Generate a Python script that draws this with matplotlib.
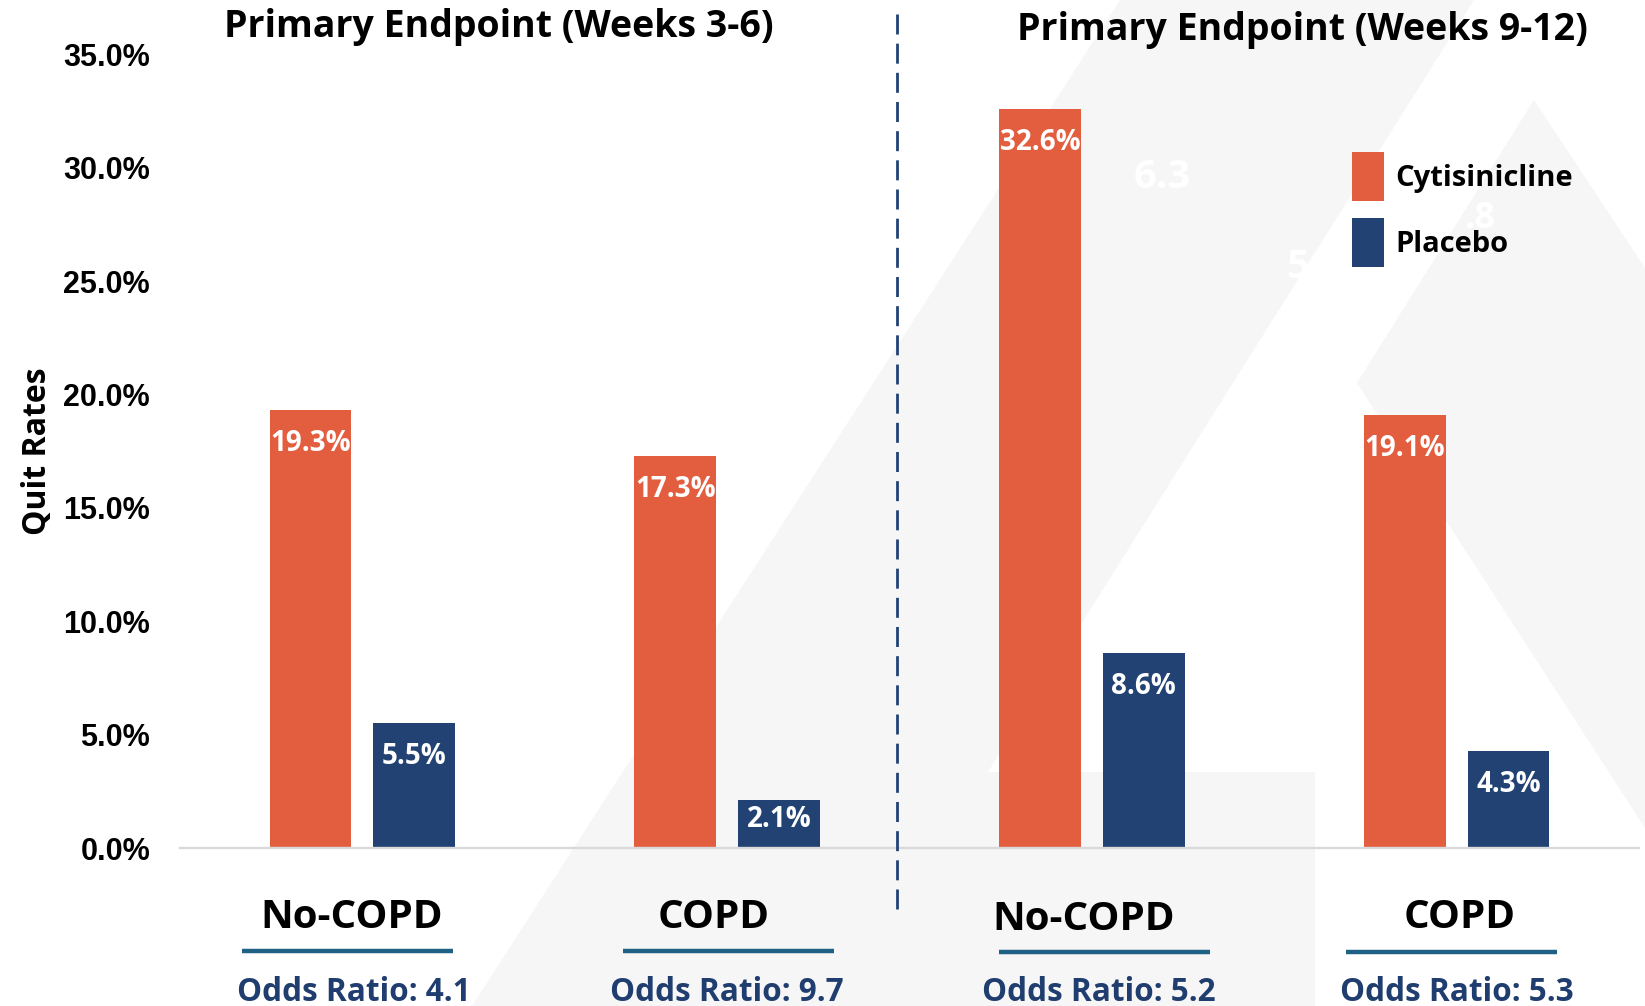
import numpy as np
import matplotlib
matplotlib.use('Agg')
import matplotlib.pyplot as plt
import matplotlib.transforms as mtransforms
from matplotlib.patches import Polygon
from matplotlib.lines import Line2D

plt.rcParams['font.family'] = ['Open Sans', 'DejaVu Sans']
plt.rcParams['font.weight'] = 'bold'

W, H = 1645, 1006

# data
groups = ['No-COPD', 'COPD', 'No-COPD', 'COPD']
cytisinicline = [19.3, 17.3, 32.6, 19.1]
placebo = [5.5, 2.1, 8.6, 4.3]
odds_ratios = [4.1, 9.7, 5.2, 5.3]
panel_titles = ['Primary Endpoint (Weeks 3-6)', 'Primary Endpoint (Weeks 9-12)']
series_names = ['Cytisinicline', 'Placebo']
yticks = [0, 5, 10, 15, 20, 25, 30, 35]
bg_digits = ['6.3', '5', '.8']

c_orange = '#e35e3f'
c_navy = '#224274'
c_uline = '#1f6184'
c_odds = '#1f3d6e'
c_bg = '#f6f6f6'


def px(x, y):
    # figure pixel (from top-left) -> figure fraction
    return (x / W, 1 - y / H)


fig = plt.figure(figsize=(W / 100, H / 100), dpi=100)

# faint logo shapes behind the chart
big = [(1120, 0), (1474, 0), (988, 772), (1315, 772), (1315, 1006), (472, 1006)]
small = [(1534, 100), (1645, 268), (1645, 828), (1357, 383)]
for shp in (big, small):
    fig.add_artist(Polygon([px(*p) for p in shp], closed=True, transform=fig.transFigure,
                           facecolor=c_bg, edgecolor='none', zorder=-5))
for txt, pos, fs in zip(bg_digits, [(1162, 188), (1298, 278), (1480, 228)], [29, 29, 26]):
    fig.text(*px(*pos), txt, color='white', fontsize=fs, ha='center', va='baseline', zorder=-4)

ax = fig.add_axes([180 / W, 1 - 848 / H, (1639 - 180) / W, (848 - 54.5) / H])
ax.patch.set_alpha(0)

x = np.arange(len(groups))
bw = 0.224
off = 0.142
b1 = ax.bar(x - off, cytisinicline, bw, color=c_orange, label=series_names[0], zorder=2)
b2 = ax.bar(x + off, placebo, bw, color=c_navy, label=series_names[1], zorder=2)

for bars, vals in ((b1, cytisinicline), (b2, placebo)):
    for r, v in zip(bars, vals):
        dy = 41 if v >= 3 else 27
        ax.annotate('{:.1f}%'.format(v), (r.get_x() + r.get_width() / 2, v),
                    xytext=(0, -dy * 0.72), textcoords='offset points',
                    ha='center', va='baseline', color='white', fontsize=20, fontweight='bold')

ax.set_xlim(-0.5, 3.5)
ax.set_ylim(0, 35)
ax.set_yticks(yticks)
ax.set_yticklabels(['{:.1f}%'.format(v) for v in yticks], fontfamily='Liberation Sans',
                   fontweight='bold', fontsize=22)
ax.tick_params(axis='y', length=0, pad=21.6)
ax.set_xticks([])
for s in ['top', 'right', 'left']:
    ax.spines[s].set_visible(False)
ax.spines['bottom'].set_color('#d9d9d9')
ax.spines['bottom'].set_linewidth(1.7)

ax.set_ylabel('Quit Rates', fontsize=23, fontweight='bold')
ax.yaxis.set_label_coords((54 - 180) / 1459, 0.5)

# category labels, underlines, odds ratios under each group
trans = mtransforms.blended_transform_factory(ax.transData, fig.transFigure)
unit = 1459 / 4.0
cat_nudge = [-10.4, -13.5, -8, 3.4]
line_nudge = [-14.4, 0.9, 12.6, -5.1]
odds_nudge = [-8.4, -0.6, 6.6, 0.4]
cat_base = [928, 928, 930, 928]
line_y = [950.7, 950.7, 952, 952]
for i, g in enumerate(groups):
    fig.text(x[i] + cat_nudge[i] / unit, 1 - cat_base[i] / H, g, transform=trans,
             ha='center', va='baseline', fontsize=29, fontweight='bold', color='black')
    cx = x[i] + line_nudge[i] / unit
    hw = 105.5 / unit
    fig.add_artist(Line2D([cx - hw, cx + hw], [1 - line_y[i] / H] * 2, transform=trans,
                          color=c_uline, lw=3.2, solid_capstyle='butt'))
    fig.text(x[i] + odds_nudge[i] / unit, 1 - 1001 / H, 'Odds Ratio: {}'.format(odds_ratios[i]),
             transform=trans, ha='center', va='baseline', fontsize=22.7, fontweight='bold', color=c_odds)

# panel titles and divider
fig.text(*px(499, 37), panel_titles[0], ha='center', va='baseline', fontsize=27, fontweight='bold')
fig.text(*px(1302, 40), panel_titles[1], ha='center', va='baseline', fontsize=27, fontweight='bold')
fig.add_artist(Line2D([897 / W, 897 / W], [1 - 14 / H, 1 - 915 / H], transform=fig.transFigure,
                      color=c_navy, lw=2.0, linestyle=(0, (7.2, 3.3))))

ax.legend(loc='upper left', bbox_to_anchor=px(1352, 152), bbox_transform=fig.transFigure,
          frameon=False, fontsize=21, handlelength=1.10, handleheight=2.21,
          labelspacing=0.58, handletextpad=0.38, borderpad=0, borderaxespad=0)

fig.savefig('out.png', dpi=100)
